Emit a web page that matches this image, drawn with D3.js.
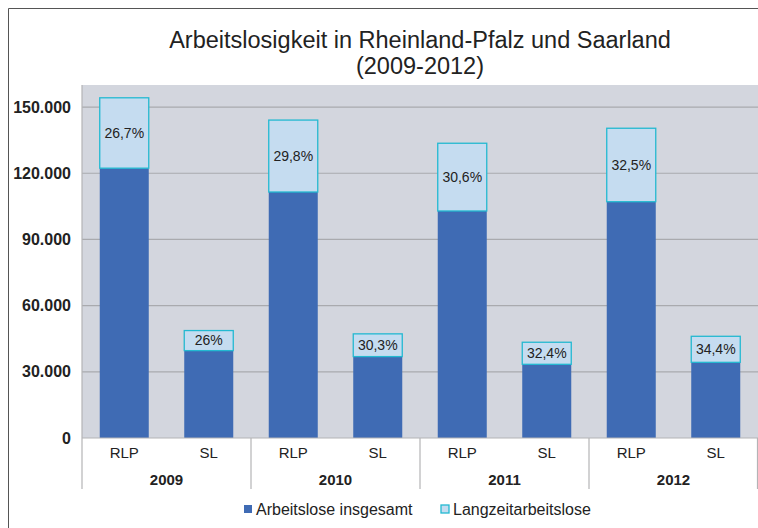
<!DOCTYPE html>
<html>
<head>
<meta charset="utf-8">
<script src="https://cdn.jsdelivr.net/npm/d3@7"></script>
<style>
  html, body { margin: 0; padding: 0; background: #fff; }
  svg { display: block; font-family: "Liberation Sans", Arial, sans-serif; }
</style>
</head>
<body>
<svg id="chart" width="758" height="528"></svg>
<script>
const YEARS = ['2009', '2010', '2011', '2012'];
const REGIONS = ['RLP', 'SL'];
// per year: RLP, SL
const INSGESAMT = [122300, 39600, 111500, 36900, 102900, 33400, 107100, 34300];
const LANGZEIT = [31900, 9100, 32600, 10300, 30700, 10000, 33300, 11800];
const PCT_LABELS = ['26,7%', '26%', '29,8%', '30,3%', '30,6%', '32,4%', '32,5%', '34,4%'];
const Y_TICKS = [0, 30000, 60000, 90000, 120000, 150000];
const SERIES = ['Arbeitslose insgesamt', 'Langzeitarbeitslose'];

const DARK = '#3f6bb4';
const LIGHT = '#c5dcf0';
const CYAN = '#23b9d1';
const BG = '#d3d6de';
const GRID = '#a9aaae';

const P = { left: 82, right: 758, top: 85, bottom: 438 };

const svg = d3.select('#chart');

const data = INSGESAMT.map((v, i) => ({
  year: YEARS[Math.floor(i / 2)],
  region: REGIONS[i % 2],
  total: v,
  long: LANGZEIT[i],
  label: PCT_LABELS[i],
}));

const de = d3.formatLocale({ decimal: ',', thousands: '.', grouping: [3], currency: ['', '€'] });
const fmt = de.format(',.0f');

const y = d3.scaleLinear().domain([0, 160000]).range([P.bottom, P.top]);
const xYear = d3.scaleBand().domain(YEARS).range([P.left, P.right]);
const xReg = d3.scaleBand().domain(REGIONS).range([0, xYear.bandwidth()])
  .paddingInner(0.42).paddingOuter(0.21);

// frame
svg.append('path')
  .attr('d', `M8.5,528 V8.5 H758`)
  .attr('fill', 'none').attr('stroke', '#555').attr('stroke-width', 1);

// title
const title = svg.append('text')
  .attr('text-anchor', 'middle')
  .attr('fill', '#222').attr('font-size', 23.5);
title.append('tspan').attr('x', (P.left + P.right) / 2).attr('y', 48)
  .text('Arbeitslosigkeit in Rheinland-Pfalz und Saarland');
title.append('tspan').attr('x', (P.left + P.right) / 2).attr('y', 74)
  .text('(2009-2012)');

// plot background
svg.append('rect')
  .attr('x', P.left).attr('y', P.top)
  .attr('width', P.right - P.left).attr('height', P.bottom - P.top)
  .attr('fill', BG);

// gridlines
svg.append('g')
  .selectAll('line')
  .data(Y_TICKS.filter(d => d > 0))
  .join('line')
  .attr('x1', P.left).attr('x2', P.right)
  .attr('y1', d => y(d)).attr('y2', d => y(d))
  .attr('stroke', GRID).attr('stroke-width', 1.2);

// y tick labels
svg.append('g')
  .selectAll('text')
  .data(Y_TICKS)
  .join('text')
  .attr('x', 71).attr('y', d => y(d)).attr('dy', '0.35em')
  .attr('text-anchor', 'end')
  .attr('font-size', 16).attr('font-weight', 'bold').attr('fill', '#222')
  .text(d => fmt(d));

// y axis line
svg.append('line')
  .attr('x1', P.left).attr('x2', P.left)
  .attr('y1', P.top).attr('y2', P.bottom)
  .attr('stroke', '#b4b4b6').attr('stroke-width', 1.2);

// bars
const bars = svg.append('g')
  .selectAll('g')
  .data(data)
  .join('g')
  .attr('transform', d => `translate(${xYear(d.year) + xReg(d.region)},0)`);

bars.append('rect')
  .attr('x', 0).attr('width', xReg.bandwidth())
  .attr('y', d => y(d.total))
  .attr('height', d => y(0) - y(d.total))
  .attr('fill', DARK);

bars.append('rect')
  .attr('x', 0).attr('width', xReg.bandwidth())
  .attr('y', d => y(d.total + d.long))
  .attr('height', d => y(d.total) - y(d.total + d.long))
  .attr('fill', LIGHT).attr('stroke', CYAN).attr('stroke-width', 1.3);

bars.append('text')
  .attr('x', xReg.bandwidth() / 2)
  .attr('y', d => (y(d.total) + y(d.total + d.long)) / 2)
  .attr('dy', '0.35em')
  .attr('text-anchor', 'middle')
  .attr('font-size', 14).attr('fill', '#222')
  .text(d => d.label);

// x axis line
svg.append('line')
  .attr('x1', P.left).attr('x2', P.right)
  .attr('y1', P.bottom).attr('y2', P.bottom)
  .attr('stroke', '#b4b4b6').attr('stroke-width', 1.2);

// category separators
const seps = YEARS.map(d => xYear(d)).concat([P.right - 0.5]);
svg.append('g')
  .selectAll('line')
  .data(seps)
  .join('line')
  .attr('x1', d => d).attr('x2', d => d)
  .attr('y1', P.bottom).attr('y2', 489)
  .attr('stroke', '#b4b4b6').attr('stroke-width', 1.2);

// region labels
svg.append('g')
  .selectAll('text')
  .data(data)
  .join('text')
  .attr('x', d => xYear(d.year) + xReg(d.region) + xReg.bandwidth() / 2)
  .attr('y', 453).attr('dy', '0.35em')
  .attr('text-anchor', 'middle')
  .attr('font-size', 15).attr('fill', '#222')
  .text(d => d.region);

// year labels
svg.append('g')
  .selectAll('text')
  .data(YEARS)
  .join('text')
  .attr('x', d => xYear(d) + xYear.bandwidth() / 2)
  .attr('y', 480).attr('dy', '0.35em')
  .attr('text-anchor', 'middle')
  .attr('font-size', 15).attr('font-weight', 'bold').attr('fill', '#222')
  .text(d => d);

// legend
const LEG_X = [244, 441];
const leg = svg.append('g')
  .selectAll('g')
  .data(SERIES)
  .join('g')
  .attr('transform', (_, i) => `translate(${LEG_X[i]},505)`);

leg.append('rect')
  .attr('width', 8).attr('height', 8)
  .attr('fill', (_, i) => i === 0 ? DARK : LIGHT)
  .attr('stroke', (_, i) => i === 0 ? 'none' : CYAN)
  .attr('stroke-width', 1.3);

leg.append('text')
  .attr('x', 12).attr('y', 4).attr('dy', '0.35em')
  .attr('font-size', 16).attr('fill', '#222')
  .text(d => d);
</script>
</body>
</html>
